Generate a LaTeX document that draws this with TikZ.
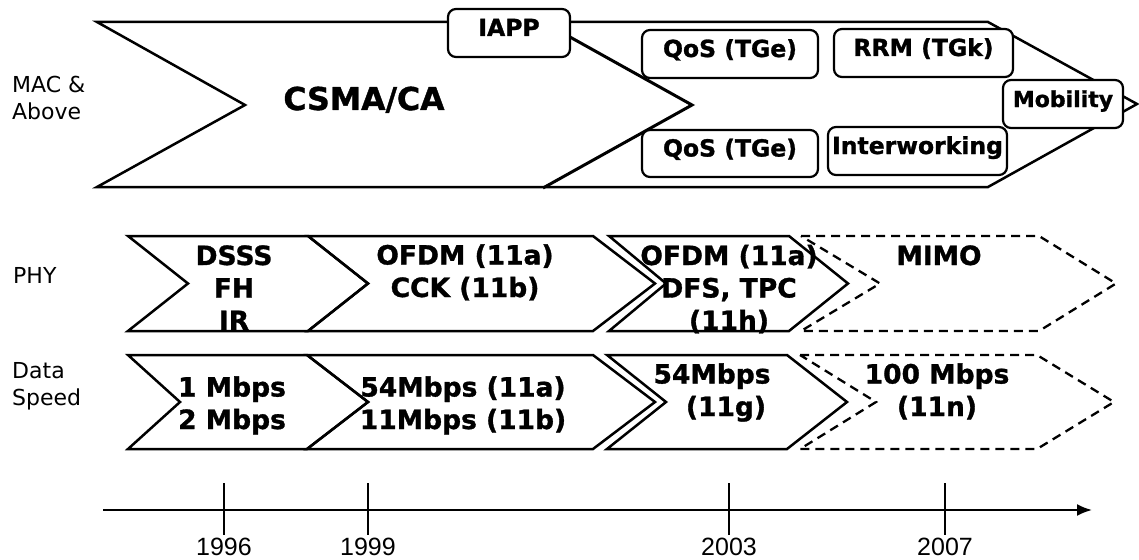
\documentclass[tikz,border=0pt]{standalone}
\usepackage{fontspec}
\setmainfont{DejaVu Sans}[BoldFeatures={FakeBold=1.2}]
\newfontfamily\yearfont{Liberation Sans}
\usetikzlibrary{arrows.meta}

% chevron outline: [style]{left}{notch depth}{right}{tip depth}{top}{bottom}
\newcommand\chev[7][chevbox]{%
  \draw[#1] (#2,#6) -- (#4,#6) -- ({#4+#5},{(#6+#7)/2}) -- (#4,#7) -- (#2,#7)
    -- ({#2+#3},{(#6+#7)/2}) -- cycle;}

\tikzset{
  chevbox/.style={line width=2.5pt, line join=miter},
  dashchev/.style={line width=2.3pt, dash pattern=on 9pt off 6pt},
  tagbox/.style={draw, fill=white, rounded corners=8pt, line width=2.2pt,
    inner sep=0pt, text height=16pt, text depth=10pt,
    font=\bfseries\fontsize{23.5}{26}\selectfont},
  rowtext/.style={anchor=base, align=center, inner sep=0pt,
    font=\bfseries\fontsize{26.5}{32.5}\selectfont},
  sidelabel/.style={anchor=base west, align=left, inner sep=0pt,
    font=\fontsize{22}{28}\selectfont},
  yearlabel/.style={anchor=base, inner sep=0pt, font=\yearfont\fontsize{25}{28}\selectfont},
  yeartick/.style={line width=1.6pt},
}

\begin{document}
\begin{tikzpicture}[x=1pt,y=-1pt]
\useasboundingbox (0,0) rectangle (1139,559);

% ---- side labels (anchored at the baseline of their last line)
\node[sidelabel] (lmac) at (12,120) {MAC \&\\Above};
\node[sidelabel] (lphy) at (13,283) {PHY};
\node[sidelabel] (lspeed) at (12,405) {Data\\[-1pt]Speed};

% ---- MAC & above band
\draw[chevbox] (97,22) -- (988,22) -- (1137,104) -- (988,187) -- (97,187) -- (245,105) -- cycle;
\draw[line width=3pt, line join=miter] (543,22) -- (692,105) -- (543,188);
\node[anchor=base, inner sep=0pt, font=\bfseries\fontsize{31.5}{34}\selectfont] (csma) at (364,110) {CSMA/CA};

\node[tagbox, minimum width=122pt, minimum height=48pt] (iapp) at (509,33) {IAPP};
\node[tagbox, minimum width=176pt, minimum height=48pt] (qos1) at (730,54) {QoS (TGe)};
\node[tagbox, minimum width=179pt, minimum height=48pt] (rrm) at (923.5,53) {RRM (TGk)};
\node[tagbox, minimum width=176pt, minimum height=47pt] (qos2) at (730,153.5) {QoS (TGe)};
\node[tagbox, minimum width=179pt, minimum height=48pt] (iw) at (917.5,151) {Interworking};
\node[tagbox, minimum width=120pt, minimum height=48pt, font=\bfseries\fontsize{22}{26}\selectfont] (mob) at (1063,104) {Mobility};

% ---- PHY band
\chev{128}{60}{308}{60}{236}{331}
\chev{308}{60}{593}{62}{236}{331}
\chev{609}{57}{789}{59}{236}{331}
\chev[dashchev]{801}{79}{1039}{77}{236}{331}
\node[rowtext] (phy1) at (234,330) {DSSS\\FH\\IR};
\node[rowtext] (phy2) at (465,297) {OFDM (11a)\\CCK (11b)};
\node[rowtext] (phy3) at (729,330) {OFDM (11a)\\DFS, TPC\\(11h)};
\node[rowtext] (phy4) at (939,265) {MIMO};

% ---- data speed band
\chev{128}{52}{307}{61}{355}{449}
\chev{307}{61}{593}{62}{355}{449}
\chev{607}{59}{787}{60}{355}{449}
\chev[dashchev]{800}{76}{1037}{77}{355}{449}
\node[rowtext] (spd1) at (232,429) {1 Mbps\\2 Mbps};
\node[rowtext] (spd2) at (463,429) {54Mbps (11a)\\11Mbps (11b)};
\node[rowtext] (spd3) at (712,416) {54Mbps\\\hspace*{28pt}(11g)};
\node[rowtext] (spd4) at (937,416) {100 Mbps\\(11n)};

% ---- time axis
\coordinate (tstart) at (103,510);
\coordinate (tend) at (1092,510);
\draw[line width=2pt, -{Latex[length=15pt,width=12pt]}] (tstart) -- (tend);
\foreach \yx/\yr in {224/1996, 368/1999, 729/2003, 945/2007}{
  \coordinate (t\yr a) at (\yx,483);
  \coordinate (t\yr b) at (\yx,535);
  \draw[yeartick] (t\yr a) -- (t\yr b);
  \node[yearlabel] (y\yr) at (\yx,555) {\yr};
}
\end{tikzpicture}
\end{document}
